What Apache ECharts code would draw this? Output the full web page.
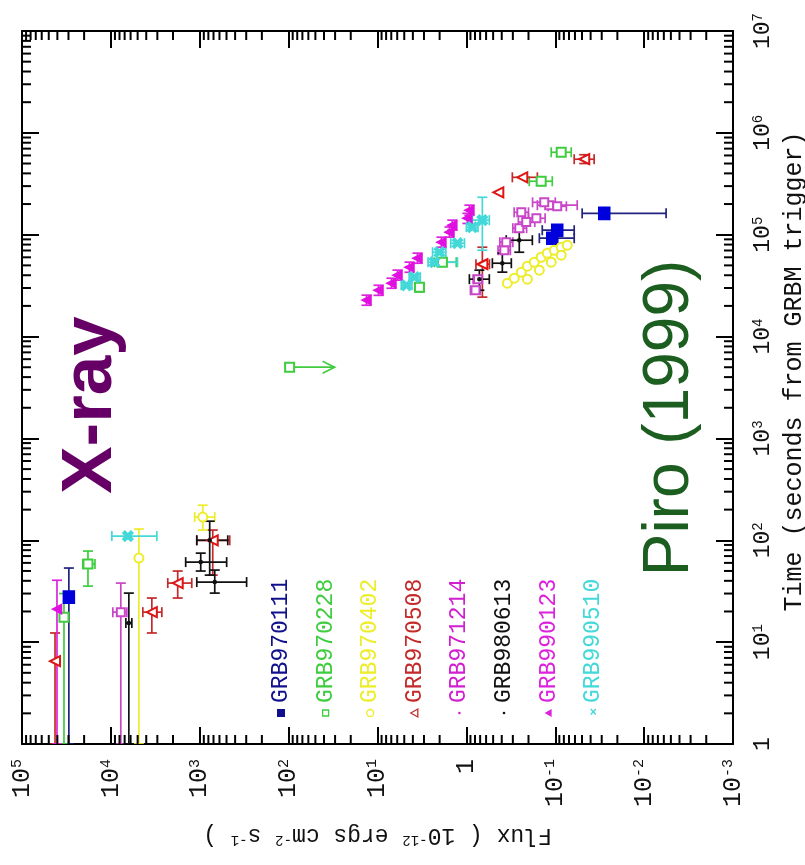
<!DOCTYPE html>
<html><head><meta charset="utf-8">
<script src="https://cdn.jsdelivr.net/npm/echarts@6/dist/echarts.min.js"></script>
<style>html,body{margin:0;padding:0;background:#fff}#c{width:805px;height:865px}</style>
</head><body><div id="c"></div>
<script>
// Each row: [time (s from GRBM trigger), flux (1e-12 erg cm-2 s-1), timeLow, timeHigh, fluxLow, fluxHigh]
const grbNames = ['GRB970111','GRB970228','GRB970402','GRB970508','GRB971214','GRB980613','GRB990123','GRB990510'];

const grb970111 = [
  [27.7, 29700, 1, 53.4, null, null],
  [162000, 0.0281, 150000, 172000, 0.00566, 0.0498],
  [110700, 0.095, null, null, 0.0612, 0.140],
  [92400, 0.108, null, null, 0.0612, 0.151]
];
const grb970228 = [
  [17.6, 33700, 1, 30, null, null],
  [58.4, 18100, 35.5, 78.4, 15100, 20700],
  [30500, 3.37, 27500, 33500, null, null],
  [53700, 1.86, 50000, 57500, 1.3, 2.3],
  [645000, 0.0857, null, null, 0.0661, 0.111],
  [335000, 0.144, 305000, 365000, 0.108, 0.196]
];
// [time, flux, flux at arrow tip] : upper limit
const grb970228Limits = [[5010, 97.5, 30.4]];
const grb970402 = [
  [66.9, 4840, 1, 129, null, null],
  [169, 925, 126, 221, 678, 1140],
  [33400, 0.346, null, null, null, null],
  [37400, 0.289, null, null, null, null],
  [42900, 0.241, null, null, null, null],
  [49100, 0.206, null, null, null, null],
  [53700, 0.172, null, null, null, null],
  [60100, 0.144, null, null, null, null],
  [65800, 0.123, null, null, null, null],
  [70400, 0.1026, null, null, null, null],
  [75400, 0.0857, null, null, null, null],
  [78900, 0.0733, null, null, null, null],
  [36600, 0.206, null, null, null, null],
  [44900, 0.151, null, null, null, null],
  [53700, 0.111, null, null, null, null],
  [62900, 0.0857, null, null, null, null]
];
const grb970508 = [
  [6.5, 42500, 1, 12.3, null, null],
  [19.7, 3460, 12.3, 27.1, 2670, 4370],
  [38.0, 1770, 27.1, 49.9, 1230, 2290],
  [100, 714, 45.5, 126, 460, 1080],
  [51300, 0.661, 24400, 75400, 0.55, 0.78],
  [261000, 0.437, null, null, null, null],
  [366000, 0.235, null, null, 0.159, 0.304],
  [551000, 0.0472, 500000, 610000, 0.0365, 0.0612]
];
const grb971214 = [
  [19.7, 7730, 1, 38.0, 6610, 9500],
  [28500, 0.79, null, null, 0.70, 0.90],
  [36600, 0.74, null, null, 0.66, 0.84],
  [70400, 0.374, null, null, 0.32, 0.44],
  [84400, 0.356, null, null, 0.30, 0.42],
  [115900, 0.254, null, null, 0.21, 0.30],
  [133000, 0.212, null, null, 0.17, 0.26],
  [145000, 0.163, null, null, 0.13, 0.20],
  [166000, 0.241, null, null, 0.20, 0.29],
  [195000, 0.117, null, null, 0.0566, 0.159],
  [208000, 0.133, null, null, 0.10, 0.18],
  [190000, 0.095, null, null, 0.075, 0.12]
];
const grb980613 = [
  [15.4, 6280, 1, 30.3, 5810, 6780],
  [61.1, 975, 49.9, 74.8, 498, 1440],
  [38.9, 678, 30.3, 51.0, 297, 1080],
  [100, 773, 45.5, 154, 484, 1080],
  [36600, 0.714, 28500, 44900, 0.552, 0.925],
  [52500, 0.394, 42900, 65800, 0.312, 0.510],
  [88300, 0.254, 67300, 106000, 0.181, 0.356]
];
const grb990123 = [
  [21.1, 40400, 1, 40.5, null, null],
  [22800, 13.3, 20300, 25500, null, null],
  [28500, 9.75, 25400, 31900, null, null],
  [33400, 6.97, 29800, 37400, null, null],
  [40100, 5.96, 35800, 44900, null, null],
  [48000, 4.37, 42800, 53800, null, null],
  [58800, 3.55, 52500, 65900, null, null],
  [84400, 1.91, 75400, 94500, null, null],
  [106000, 1.55, 94600, 119000, null, null],
  [124000, 1.44, 111000, 139000, null, null],
  [145000, 0.975, 129000, 162000, null, null],
  [174000, 0.925, 155000, 195000, null, null]
];
const grb990510 = [
  [110, 6440, null, null, 3040, 9750],
  [31900, 4.72, null, null, 4.1, 5.4],
  [38300, 3.84, null, null, 3.3, 4.4],
  [53700, 2.29, null, null, 1.26, 2.7],
  [67300, 2.01, null, null, 1.7, 2.4],
  [82500, 1.26, null, null, 1.05, 1.5],
  [118500, 0.857, null, null, 0.74, 1.0],
  [139000, 0.661, 70400, 233000, 0.552, 0.857]
];

const fluxRange = [1e-3, 1e5];
const timeRange = [1, 1e7];
const fluxAxisTitle = '{n|Flux ( 10}{s|-12}{n| ergs cm}{s|-2}{n| s}{s|-1}{n| )}';
const timeAxisTitle = 'Time (seconds from GRBM trigger)';
const note1 = 'X-ray';
const note2 = 'Piro (1999)';

// minor tick values (2..9 x 10^k)
const timeMinorTicks = [];
for (let k = 0; k < 7; k++) for (let d = 2; d <= 9; d++) timeMinorTicks.push(d * Math.pow(10, k));
const fluxMinorTicks = [];
for (let k = -3; k < 5; k++) for (let d = 2; d <= 9; d++) fluxMinorTicks.push(d * Math.pow(10, k));

const allData = [grb970111, grb970228, grb970402, grb970508, grb971214, grb980613, grb990123, grb990510];
const barColors = ['#22227f', '#3fcc3f', '#eded2a', '#c42a2a', '#c846c8', '#111111', '#dd22dd', '#44d8d8'];
const markColors = ['#0000dd', '#3fcc3f', '#eded2a', '#dd1515', '#c846c8', '#111111', '#e010e0', '#44d8d8'];
const legendColors = ['#10108c', '#3fcc3f', '#eded2a', '#c42a2a', '#d020d0', '#111111', '#dd22dd', '#44d8d8'];
const xPath = 'path://M0,2L2,0L5,3L8,0L10,2L7,5L10,8L8,10L5,7L2,10L0,8L3,5Z';
const symbols = [
  {symbol: 'rect', size: [11, 12], rot: 0},
  {symbol: 'emptyRect', size: 9, rot: 0},
  {symbol: 'emptyCircle', size: 9, rot: 0},
  {symbol: 'emptyTriangle', size: 10, rot: 90},
  {symbol: 'emptyRect', size: 8, rot: 0},
  {symbol: 'circle', size: 3, rot: 0},
  {symbol: 'triangle', size: 9, rot: 90},
  {symbol: xPath, size: 10, rot: 0}
];

function pow10Label(v) {
  const e = Math.round(Math.log10(v));
  if (e === 0) return '{b|1}';
  return '{b|10}{s|' + e + '}';
}

function errRender(color) {
  const cap = 5;
  return function (params, api) {
    const t = api.value(0), f = api.value(1);
    const tl = api.value(2), th = api.value(3), fl = api.value(4), fh = api.value(5);
    const st = {stroke: color, lineWidth: 1.7};
    const ch = [];
    const L = (a, b) => ({type: 'line', shape: {x1: a[0], y1: a[1], x2: b[0], y2: b[1]}, style: st});
    if (isFinite(tl) && isFinite(th)) {
      const a = api.coord([f, tl]), b = api.coord([f, th]);
      ch.push(L(a, b), L([a[0] - cap, a[1]], [a[0] + cap, a[1]]), L([b[0] - cap, b[1]], [b[0] + cap, b[1]]));
    }
    if (isFinite(fl) && isFinite(fh)) {
      const a = api.coord([fl, t]), b = api.coord([fh, t]);
      ch.push(L(a, b), L([a[0], a[1] - cap], [a[0], a[1] + cap]), L([b[0], b[1] - cap], [b[0], b[1] + cap]));
    }
    return {type: 'group', children: ch};
  };
}

const series = [];
allData.forEach((d, i) => {
  series.push({
    type: 'custom', name: grbNames[i] + ' errors', data: d, encode: {x: 1, y: 0},
    renderItem: errRender(barColors[i]), clip: true, z: 2, silent: true
  });
});
series.push({
  type: 'custom', name: 'GRB970228 limit', data: grb970228Limits, encode: {x: 1, y: 0}, z: 2, silent: true,
  renderItem: function (params, api) {
    const a = api.coord([api.value(1), api.value(0)]);
    const b = api.coord([api.value(2), api.value(0)]);
    const st = {stroke: barColors[1], lineWidth: 1.7, fill: null};
    return {type: 'group', children: [
      {type: 'line', shape: {x1: a[0], y1: a[1], x2: b[0], y2: b[1]}, style: st},
      {type: 'polyline', shape: {points: [[b[0] - 12, b[1] - 6], [b[0], b[1]], [b[0] - 12, b[1] + 6]]}, style: st}
    ]};
  }
});
allData.forEach((d, i) => {
  let pts = d.map(r => [r[0], r[1]]);
  if (i === 1) pts = pts.concat(grb970228Limits.map(r => [r[0], r[1]]));
  series.push({
    type: 'scatter', name: grbNames[i], data: pts, encode: {x: 1, y: 0},
    symbol: symbols[i].symbol, symbolSize: symbols[i].size, symbolRotate: symbols[i].rot,
    itemStyle: {color: markColors[i], borderColor: markColors[i], borderWidth: 1.6, opacity: 1},
    z: 3, silent: true
  });
});
// minor ticks on all four frame edges
series.push({
  type: 'custom', name: 'timeMinor', data: timeMinorTicks.map(v => [v, 1]), encode: {x: 1, y: 0}, z: 5, silent: true,
  renderItem: function (params, api) {
    const cs = params.coordSys;
    const y = api.coord([1, api.value(0)])[1];
    const st = {stroke: '#000', lineWidth: 2};
    return {type: 'group', children: [
      {type: 'line', shape: {x1: cs.x, y1: y, x2: cs.x + 9, y2: y}, style: st},
      {type: 'line', shape: {x1: cs.x + cs.width, y1: y, x2: cs.x + cs.width - 9, y2: y}, style: st}
    ]};
  }
});
series.push({
  type: 'custom', name: 'fluxMinor', data: fluxMinorTicks.map(v => [10, v]), encode: {x: 1, y: 0}, z: 5, silent: true,
  renderItem: function (params, api) {
    const cs = params.coordSys;
    const x = api.coord([api.value(1), 10])[0];
    const st = {stroke: '#000', lineWidth: 2};
    return {type: 'group', children: [
      {type: 'line', shape: {x1: x, y1: cs.y, x2: x, y2: cs.y + 9}, style: st},
      {type: 'line', shape: {x1: x, y1: cs.y + cs.height, x2: x, y2: cs.y + cs.height - 9}, style: st}
    ]};
  }
});

const mono = '"Liberation Mono", "DejaVu Sans Mono", monospace';
const labelRich = {
  b: {fontFamily: mono, fontSize: 25, color: '#111'},
  s: {fontFamily: mono, fontSize: 15, color: '#111', verticalAlign: 'top'}
};
const labelRichT = {
  b: {fontFamily: mono, fontSize: 23, color: '#111'},
  s: {fontFamily: mono, fontSize: 14, color: '#111', verticalAlign: 'top'}
};
const lineSt = {color: '#000', width: 2};

const fluxAxisBase = {
  type: 'log', logBase: 10, min: fluxRange[0], max: fluxRange[1], inverse: true, interval: 1,
  axisLine: {show: true, onZero: false, lineStyle: lineSt},
  axisTick: {show: true, inside: true, length: 17, lineStyle: lineSt},
  splitLine: {show: false}, minorTick: {show: false}, minorSplitLine: {show: false}
};
const timeAxisBase = {
  type: 'log', logBase: 10, min: timeRange[0], max: timeRange[1], interval: 1,
  axisLine: {show: true, onZero: false, lineStyle: lineSt},
  axisTick: {show: true, inside: true, length: 17, lineStyle: lineSt},
  splitLine: {show: false}, minorTick: {show: false}, minorSplitLine: {show: false}
};

// legend (rotated like the rest of the figure)
const legendGraphics = [];
grbNames.forEach((n, i) => {
  const x = 281 + i * 44.6, y = 713;
  const c = legendColors[i];
  let mk;
  if (i === 0) mk = {type: 'rect', shape: {x: x - 4, y: y - 4, width: 8, height: 8}, style: {fill: c}};
  else if (i === 1) mk = {type: 'rect', shape: {x: x - 3, y: y - 3, width: 6, height: 6}, style: {fill: null, stroke: c, lineWidth: 1.3}};
  else if (i === 2) mk = {type: 'circle', shape: {cx: x, cy: y, r: 3.5}, style: {fill: null, stroke: c, lineWidth: 1.3}};
  else if (i === 3) mk = {type: 'polygon', shape: {points: [[x - 4, y], [x + 3, y - 4], [x + 3, y + 4]]}, style: {fill: null, stroke: c, lineWidth: 1.3}};
  else if (i === 6) mk = {type: 'polygon', shape: {points: [[x - 4, y], [x + 3, y - 4], [x + 3, y + 4]]}, style: {fill: c}};
  else if (i === 7) mk = {type: 'text', x: x, y: y, style: {text: '×', fill: c, font: 'bold 12px sans-serif', align: 'center', verticalAlign: 'middle'}};
  else mk = {type: 'circle', shape: {cx: x, cy: y, r: 1.3}, style: {fill: c}};
  legendGraphics.push(mk);
  legendGraphics.push({
    type: 'text', x: x, y: y - 10, rotation: Math.PI / 2,
    style: {text: n, fill: c, font: '23px ' + mono, align: 'left', verticalAlign: 'middle'}
  });
});

const option = {
  animation: false,
  backgroundColor: '#ffffff',
  grid: {left: 22, right: 72, top: 31, bottom: 121, containLabel: false, outerBoundsMode: 'none'},
  xAxis: [
    Object.assign({}, fluxAxisBase, {
      position: 'bottom',
      axisLabel: {show: true, rotate: 90, margin: 15, formatter: pow10Label, rich: labelRich},
      name: fluxAxisTitle, nameLocation: 'middle', nameRotate: 180, nameGap: 80,
      nameTextStyle: {rich: {
        n: {fontFamily: mono, fontSize: 23, color: '#111'},
        s: {fontFamily: mono, fontSize: 14, color: '#111', verticalAlign: 'top'}
      }}
    }),
    Object.assign({}, fluxAxisBase, {position: 'top', axisLabel: {show: false}})
  ],
  yAxis: [
    Object.assign({}, timeAxisBase, {
      position: 'right',
      axisLabel: {show: true, rotate: 90, margin: 18, formatter: pow10Label, rich: labelRichT},
      name: timeAxisTitle, nameLocation: 'middle', nameRotate: 90, nameGap: 44,
      nameTextStyle: {fontFamily: mono, fontSize: 25, color: '#111', padding: [0, 0, 0, 32]}
    }),
    Object.assign({}, timeAxisBase, {position: 'left', axisLabel: {show: false}})
  ],
  series: series,
  graphic: legendGraphics.concat([
    {type: 'text', x: 91, y: 405, rotation: Math.PI / 2,
     style: {text: note1, fill: '#660066', font: 'bold 71px "Liberation Sans", Arial, sans-serif', align: 'center', verticalAlign: 'middle'}},
    {type: 'text', x: 670, y: 418, rotation: Math.PI / 2,
     style: {text: note2, fill: '#1b5e1f', font: '64px "Liberation Sans", Arial, sans-serif', align: 'center', verticalAlign: 'middle'}}
  ])
};

const chart = echarts.init(document.getElementById('c'), null, {renderer: 'canvas'});
chart.setOption(option);
</script>
</body></html>
